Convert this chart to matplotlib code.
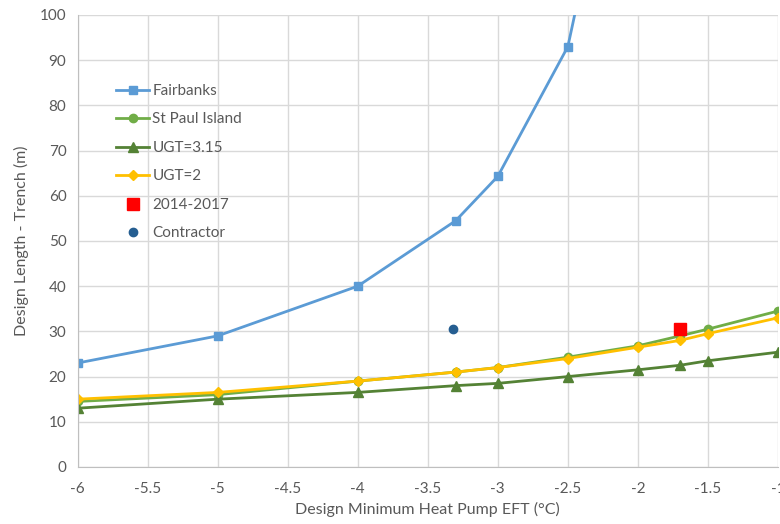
import numpy as np
import matplotlib.pyplot as plt

plt.rcParams['font.family'] = ['Lato', 'DejaVu Sans']

eft = [-6, -5, -4, -3.3, -3, -2.5, -2, -1.7, -1.5, -1]
fairbanks_x = [-6, -5, -4, -3.3, -3, -2.5, -2]
fairbanks = [23, 29, 40, 54.5, 64.3, 93, 165]
st_paul = [14.5, 16, 19, 21, 22, 24.3, 26.8, 29, 30.5, 34.5]
ugt_315 = [13, 15, 16.5, 18, 18.5, 20, 21.5, 22.5, 23.5, 25.4]
ugt_2 = [15, 16.5, 19, 21, 22, 24, 26.5, 28, 29.5, 33]
obs_x = [-1.7]
obs_y = [30.6]
contractor_x = [-3.32]
contractor_y = [30.6]

xticks = [-6, -5.5, -5, -4.5, -4, -3.5, -3, -2.5, -2, -1.5, -1]
xtick_labels = ['-6', '-5.5', '-5', '-4.5', '-4', '-3.5', '-3', '-2.5', '-2', '-1.5', '-1']
yticks = [0, 10, 20, 30, 40, 50, 60, 70, 80, 90, 100]

fig = plt.figure(figsize=(7.8, 5.24), dpi=100)
ax = fig.add_axes([0.0994, 0.1088, 0.898, 0.8626])

ax.plot(fairbanks_x, fairbanks, color='#5B9BD5', lw=2, marker='s', ms=6, label='Fairbanks')
ax.plot(eft, st_paul, color='#70AD47', lw=2, marker='o', ms=6, label='St Paul Island')
ax.plot(eft, ugt_315, color='#548235', lw=2, marker='^', ms=7, label='UGT=3.15')
ax.plot(eft, ugt_2, color='#FFC000', lw=2, marker='D', ms=5, label='UGT=2')
ax.plot(obs_x, obs_y, ls='none', color='#FF0000', marker='s', ms=9, label='2014-2017')
ax.plot(contractor_x, contractor_y, ls='none', color='#255E91', marker='o', ms=6, label='Contractor')

ax.set_xlim(-6, -1)
ax.set_ylim(0, 100)
ax.set_xticks(xticks)
ax.set_xticklabels(xtick_labels)
ax.set_yticks(yticks)
ax.grid(True, color='#D9D9D9', lw=1)
ax.set_axisbelow(True)
ax.tick_params(length=0, labelsize=11, labelcolor='#595959')
ax.tick_params(axis='x', pad=11)
ax.tick_params(axis='y', pad=8)
for s in ['top', 'right']:
    ax.spines[s].set_visible(False)
for s in ['left', 'bottom']:
    ax.spines[s].set_color('#BFBFBF')

ax.set_xlabel('Design Minimum Heat Pump EFT (°C)', fontsize=11.5, color='#595959', labelpad=4)
ax.set_ylabel('Design Length - Trench (m)', fontsize=11.5, color='#595959', labelpad=8)

leg = ax.legend(loc='upper left', bbox_to_anchor=(0.035, 0.878), frameon=False,
                fontsize=11, labelspacing=0.95, handlelength=2.2, handletextpad=0.2)
for t in leg.get_texts():
    t.set_color('#595959')

fig.savefig('out.png', dpi=100)
